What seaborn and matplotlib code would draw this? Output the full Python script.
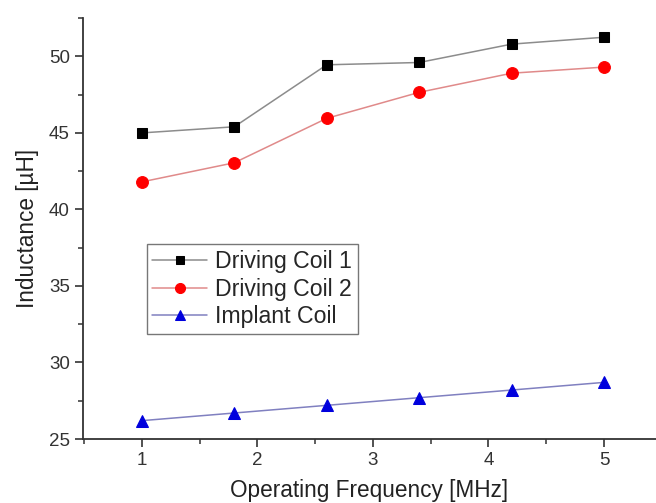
import matplotlib
matplotlib.use("Agg")
import matplotlib.pyplot as plt
from matplotlib.ticker import MultipleLocator
import pandas as pd
import seaborn as sns

freq_mhz = [1.0, 1.8, 2.6, 3.4, 4.2, 5.0]
driving_coil_1 = [45.0, 45.4, 49.45, 49.6, 50.8, 51.25]
driving_coil_2 = [41.8, 43.05, 45.95, 47.65, 48.9, 49.3]
implant_coil = [26.2, 26.7, 27.2, 27.7, 28.2, 28.7]

series_names = ["Driving Coil 1", "Driving Coil 2", "Implant Coil"]


def main():
    sns.set_style("ticks")
    plt.rcParams["font.family"] = ["Liberation Sans", "DejaVu Sans"]

    df = pd.DataFrame({
        "freq": freq_mhz * 3,
        "L": driving_coil_1 + driving_coil_2 + implant_coil,
        "coil": sum([[n] * len(freq_mhz) for n in series_names], []),
    })

    styles = {
        "Driving Coil 1": dict(line="#8c8c8c", face="black", marker="s", ms=7.5),
        "Driving Coil 2": dict(line="#e08a8a", face="red", marker="o", ms=8.5),
        "Implant Coil": dict(line="#8080c0", face="#0000dd", marker="^", ms=9),
    }

    fig = plt.figure(figsize=(6.56, 5.03), dpi=100)
    ax = fig.add_axes([0.1265, 0.1272, 0.8735, 0.8368])

    for name in series_names:
        s = styles[name]
        sns.lineplot(data=df[df["coil"] == name], x="freq", y="L", ax=ax,
                     color=s["line"], lw=1.1, marker=s["marker"],
                     markersize=s["ms"], markerfacecolor=s["face"],
                     markeredgecolor=s["face"], label=name)

    ax.set_xlim(0.49, 5.45)
    ax.set_ylim(25, 52.5)
    ax.xaxis.set_major_locator(MultipleLocator(1))
    ax.xaxis.set_minor_locator(MultipleLocator(0.5))
    ax.yaxis.set_major_locator(MultipleLocator(5))
    ax.yaxis.set_minor_locator(MultipleLocator(2.5))

    sns.despine(ax=ax)
    for sp in ["left", "bottom"]:
        ax.spines[sp].set_color("#333333")
        ax.spines[sp].set_linewidth(1.3)
    ax.tick_params(which="major", length=6, width=1.2, color="#333333",
                   labelsize=13.5, labelcolor="#333333", direction="out")
    ax.tick_params(which="minor", length=3.5, width=1.1, color="#333333",
                   direction="out")

    ax.set_xlabel("Operating Frequency [MHz]", fontsize=16.3, color="#222222",
                  labelpad=7)
    ax.set_ylabel("Inductance [\u00b5H]", fontsize=16.3, color="#222222",
                  labelpad=7)

    leg = ax.legend(loc="upper left", bbox_to_anchor=(0.2236, 0.5143),
                    bbox_transform=fig.transFigure, borderaxespad=0,
                    fontsize=16.7, fancybox=False, frameon=True,
                    handlelength=2.35, handletextpad=0.35, labelspacing=0.2,
                    borderpad=0.25, markerscale=0.85)
    leg.get_frame().set_edgecolor("#555555")
    leg.get_frame().set_linewidth(1.0)

    fig.savefig("out.png", dpi=100)
    plt.close(fig)


if __name__ == "__main__":
    main()
